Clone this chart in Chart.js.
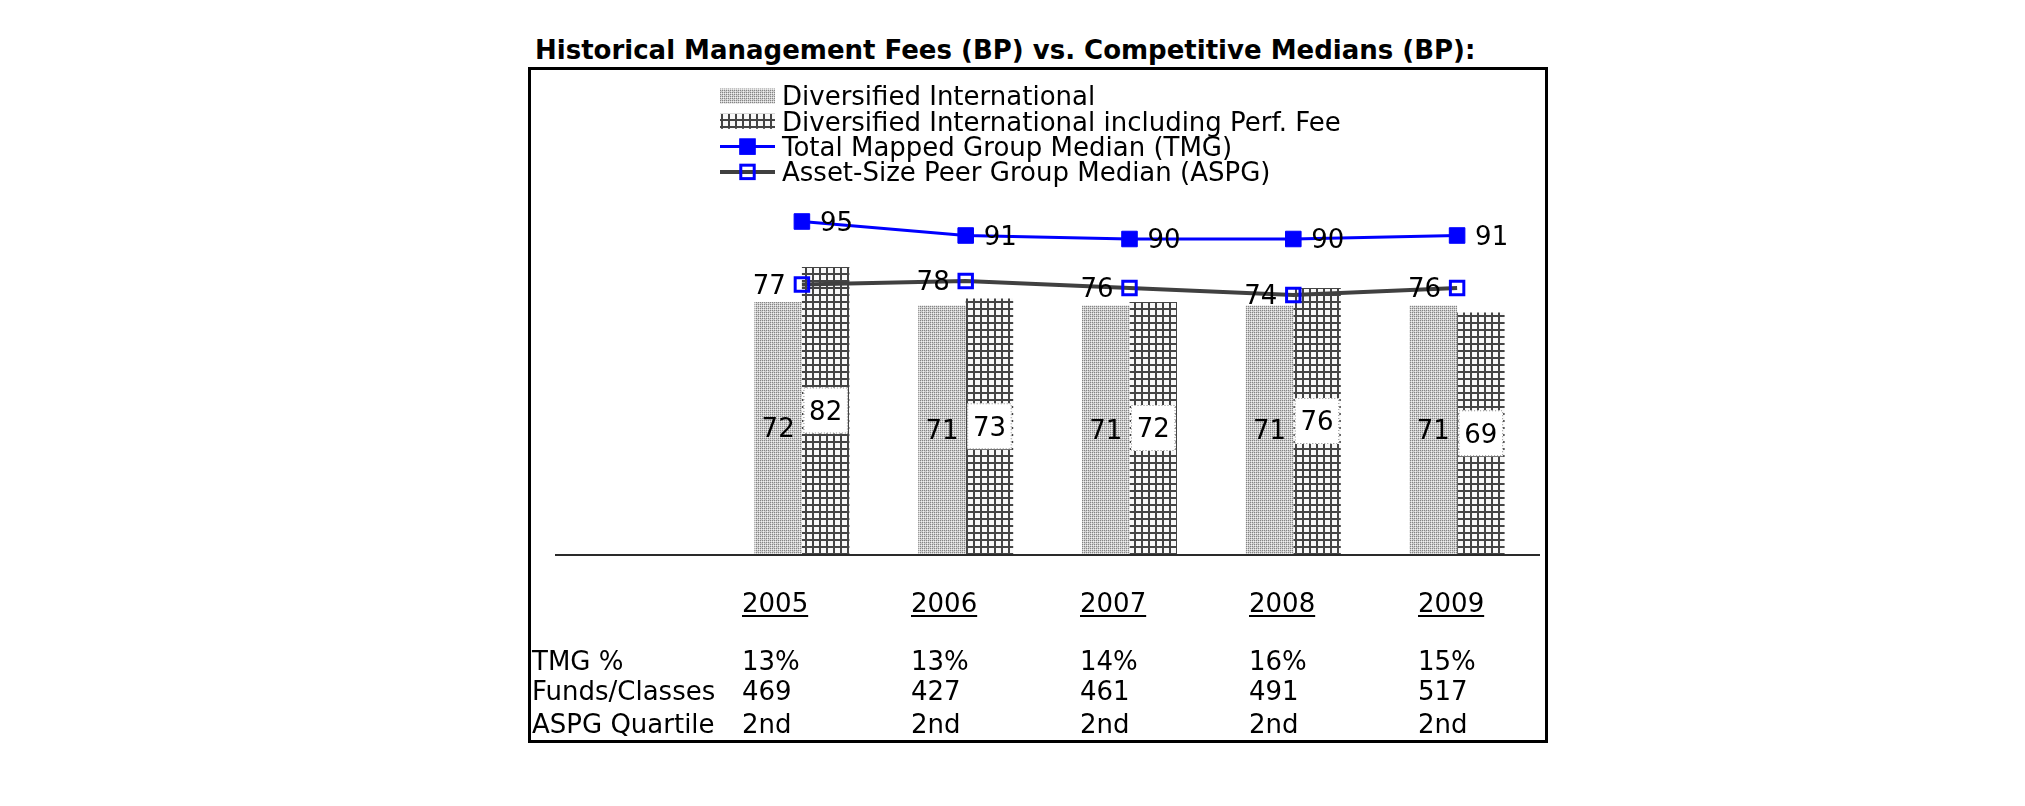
<!DOCTYPE html>
<html>
<head>
<meta charset="utf-8">
<script src="https://cdn.jsdelivr.net/npm/chart.js@4.4.1/dist/chart.umd.min.js"></script>
<style>
  html, body { margin:0; padding:0; background:#fff; width:2025px; height:806px; overflow:hidden; }
  #frame { position:absolute; left:528px; top:67px; width:1014px; height:670px; border:3px solid #000; box-sizing:content-box; }
  #title { position:absolute; left:535px; top:37px; font:bold 26px/26px "DejaVu Sans", Verdana, sans-serif; white-space:nowrap; color:#000; }
  #chart { position:absolute; left:0; top:0; z-index:2; }
  .cell { position:absolute; font:26px/26px "DejaVu Sans", Verdana, sans-serif; white-space:nowrap; color:#000; z-index:3; }
  .yr { text-decoration:underline; text-decoration-thickness:2px; text-underline-offset:3px; }
</style>
</head>
<body>
<div id="frame"></div>
<div id="title">Historical Management Fees (BP) vs. Competitive Medians (BP):</div>
<canvas id="chart" width="2025" height="806"></canvas>
<div id="table"></div>
<script>
// ---- data ----
const categories = ['2005', '2006', '2007', '2008', '2009'];
const seriesNames = [
  'Diversified International',
  'Diversified International including Perf. Fee',
  'Total Mapped Group Median (TMG)',
  'Asset-Size Peer Group Median (ASPG)'
];
const diversifiedIntl     = [72, 71, 71, 71, 71];
const diversifiedIntlPerf = [82, 73, 72, 76, 69];
const tmgMedian           = [95, 91, 90, 90, 91];
const aspgMedian          = [77, 78, 76, 74, 76];
const tableRowLabels = ['TMG %', 'Funds/Classes', 'ASPG Quartile'];
const tmgPct         = ['13%', '13%', '14%', '16%', '15%'];
const fundsClasses   = ['469', '427', '461', '491', '517'];
const aspgQuartile   = ['2nd', '2nd', '2nd', '2nd', '2nd'];

// ---- patterns ----
function makeDotPattern() {
  const c = document.createElement('canvas'); c.width = 4; c.height = 4;
  const g = c.getContext('2d');
  g.fillStyle = '#cdcdcd'; g.fillRect(0, 0, 4, 4);
  g.fillStyle = '#858585';
  g.fillRect(0, 0, 1, 1); g.fillRect(2, 0, 1, 1); g.fillRect(0, 2, 1, 1); g.fillRect(2, 2, 1, 1);
  g.fillStyle = '#f0f0f0';
  g.fillRect(3, 1, 1, 1); g.fillRect(3, 3, 1, 1); g.fillRect(1, 1, 1, 1);
  return g.createPattern(c, 'repeat');
}
function makeGridPattern() {
  const c = document.createElement('canvas'); c.width = 7; c.height = 7;
  const g = c.getContext('2d');
  g.fillStyle = '#f8f8f8'; g.fillRect(0, 0, 7, 7);
  g.fillStyle = '#444444';
  g.fillRect(0, 0, 7, 2); g.fillRect(0, 0, 2, 7);
  return g.createPattern(c, 'repeat');
}
const ctx0 = document.getElementById('chart').getContext('2d');
const dotPattern = makeDotPattern();
const gridPattern = makeGridPattern();

// ---- table (text below the chart) ----
(function buildTable() {
  const host = document.getElementById('table');
  const add = (txt, x, baseline, cls) => {
    const d = document.createElement('div');
    d.className = 'cell' + (cls ? ' ' + cls : '');
    d.textContent = txt;
    d.style.left = x + 'px';
    d.style.top = (baseline - 22) + 'px';
    host.appendChild(d);
  };
  const colX = i => 742 + 169 * i;
  const rowBase = [670, 700, 733];
  categories.forEach((c, i) => add(c, colX(i), 612, 'yr'));
  tableRowLabels.forEach((t, r) => add(t, 532, rowBase[r]));
  [tmgPct, fundsClasses, aspgQuartile].forEach((row, r) =>
    row.forEach((v, i) => add(v, colX(i), rowBase[r])));
})();

// ---- plugins ----
const FS = 26;
const FONT = FS + 'px "DejaVu Sans", Verdana, sans-serif';
const CAP_HALF = 0.365 * FS;

const axisLinePlugin = {
  id: 'axisLine',
  afterDatasetsDraw(chart) {
    const { ctx, chartArea } = chart;
    ctx.save();
    ctx.strokeStyle = '#2a2a2a';
    ctx.lineWidth = 2;
    ctx.beginPath();
    ctx.moveTo(555, chartArea.bottom + 1);
    ctx.lineTo(chartArea.right + 1, chartArea.bottom + 1);
    ctx.stroke();
    ctx.restore();
  }
};

const labelPlugin = {
  id: 'valueLabels',
  afterDatasetsDraw(chart) {
    const ctx = chart.ctx;
    ctx.save();
    ctx.font = FONT;
    ctx.textBaseline = 'alphabetic';
    chart.data.datasets.forEach((ds, i) => {
      const meta = chart.getDatasetMeta(i);
      meta.data.forEach((el, j) => {
        const txt = String(ds.data[j]);
        if (i === 0) {
          ctx.fillStyle = '#000'; ctx.textAlign = 'center';
          ctx.fillText(txt, el.x, (el.y + el.base) / 2 + CAP_HALF);
        } else if (i === 1) {
          const cy = (el.y + el.base) / 2;
          const bw = el.width - 3, bh = 46;
          ctx.fillStyle = '#fff';
          ctx.fillRect(el.x - bw / 2, cy - bh / 2, bw, bh);
          ctx.setLineDash([1, 2]);
          ctx.strokeStyle = '#8a8a8a'; ctx.lineWidth = 1;
          ctx.strokeRect(el.x - bw / 2 + 0.5, cy - bh / 2 + 0.5, bw - 1, bh - 1);
          ctx.setLineDash([]);
          ctx.fillStyle = '#000'; ctx.textAlign = 'center';
          ctx.fillText(txt, el.x, cy + CAP_HALF);
        } else if (i === 2) {
          ctx.fillStyle = '#000'; ctx.textAlign = 'left';
          ctx.fillText(txt, el.x + 18, el.y + CAP_HALF);
        } else {
          ctx.fillStyle = '#000'; ctx.textAlign = 'right';
          ctx.fillText(txt, el.x - 16, el.y + CAP_HALF);
        }
      });
    });
    ctx.restore();
  }
};

const legendPlugin = {
  id: 'boxLegend',
  afterDraw(chart) {
    const ctx = chart.ctx;
    const x0 = 720, w = 55, tx = 782, y0 = 96, pitch = 25.3;
    ctx.save();
    ctx.font = FONT;
    ctx.textBaseline = 'alphabetic';
    ctx.textAlign = 'left';
    chart.data.datasets.forEach((ds, i) => {
      const cy = y0 + i * pitch;
      if (ds.type === 'line') {
        ctx.strokeStyle = ds.borderColor; ctx.lineWidth = ds.borderWidth;
        ctx.beginPath(); ctx.moveTo(x0, cy); ctx.lineTo(x0 + w, cy); ctx.stroke();
        const s = Math.SQRT2 * ds.pointRadius;
        const mx = x0 + w / 2;
        ctx.fillStyle = ds.pointBackgroundColor;
        ctx.fillRect(mx - s / 2, cy - s / 2, s, s);
        ctx.strokeStyle = ds.pointBorderColor; ctx.lineWidth = ds.pointBorderWidth;
        ctx.strokeRect(mx - s / 2, cy - s / 2, s, s);
      } else {
        ctx.fillStyle = ds.backgroundColor;
        ctx.fillRect(x0, cy - 7.5, w, 15);
      }
      ctx.fillStyle = '#000';
      ctx.fillText(ds.label, tx, cy + CAP_HALF);
    });
    ctx.restore();
  }
};

// ---- chart ----
new Chart(ctx0, {
  type: 'bar',
  data: {
    labels: categories,
    datasets: [
      { type: 'bar', label: seriesNames[0], data: diversifiedIntl, backgroundColor: dotPattern,
        borderWidth: 0, categoryPercentage: 0.58, barPercentage: 1.0, order: 2 },
      { type: 'bar', label: seriesNames[1], data: diversifiedIntlPerf, backgroundColor: gridPattern,
        borderWidth: 0, categoryPercentage: 0.58, barPercentage: 1.0, order: 2 },
      { type: 'line', label: seriesNames[2], data: tmgMedian, borderColor: '#0000ff', borderWidth: 3,
        pointStyle: 'rect', pointRadius: 11, pointBackgroundColor: '#0000ff', pointBorderColor: '#0000ff',
        pointBorderWidth: 1, tension: 0, fill: false, order: 1 },
      { type: 'line', label: seriesNames[3], data: aspgMedian, borderColor: '#404040', borderWidth: 4,
        pointStyle: 'rect', pointRadius: 9.5, pointBackgroundColor: 'rgba(0,0,0,0)', pointBorderColor: '#0000ff',
        pointBorderWidth: 3, tension: 0, fill: false, order: 1 }
    ]
  },
  options: {
    responsive: false,
    animation: false,
    devicePixelRatio: 1,
    layout: { padding: { left: 720, right: 486, top: 169, bottom: 252 } },
    scales: {
      x: { display: false, offset: true },
      y: { display: false, min: 0, max: 110 }
    },
    plugins: { legend: { display: false }, tooltip: { enabled: false }, title: { display: false } }
  },
  plugins: [axisLinePlugin, labelPlugin, legendPlugin]
});
</script>
</body>
</html>
